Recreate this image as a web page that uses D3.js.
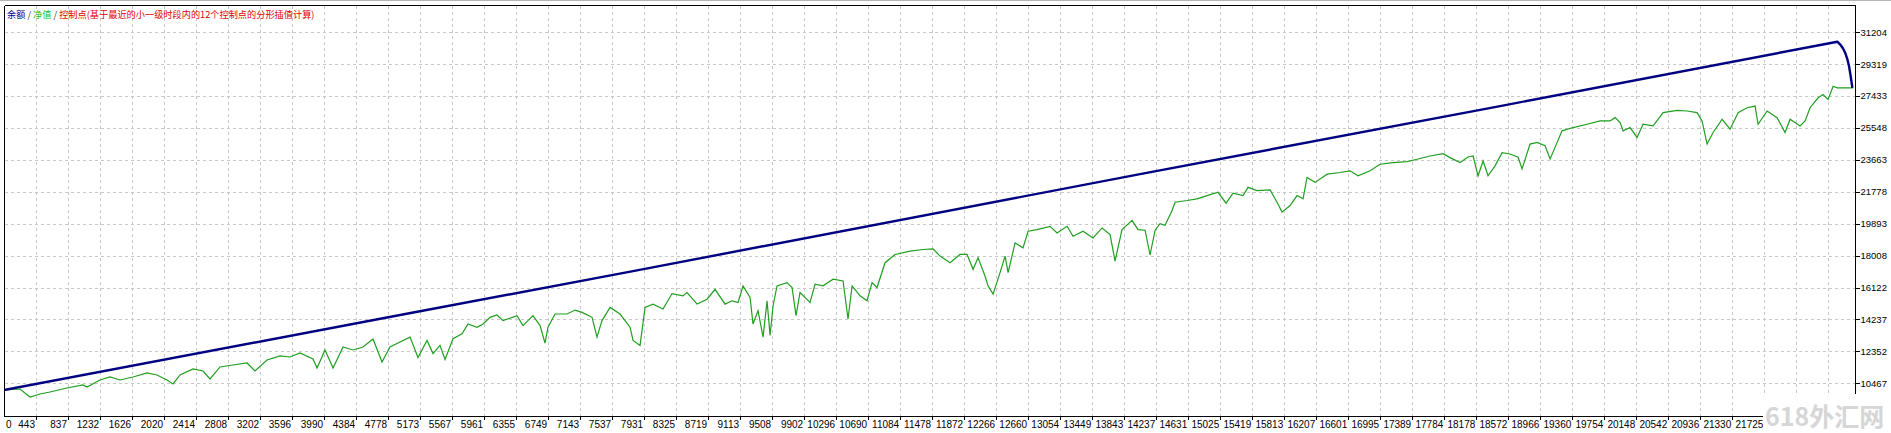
<!DOCTYPE html>
<html><head><meta charset="utf-8">
<script src="https://cdn.jsdelivr.net/npm/d3@7"></script>
<style>html,body{margin:0;padding:0;background:#fff;overflow:hidden}</style>
</head><body><svg id="c" width="1891" height="433"></svg>
<script>
// ---- data ----
const xTickLabels = [443,837,1232,1626,2020,2414,2808,3202,3596,3990,4384,4778,5173,5567,5961,6355,6749,7143,7537,7931,8325,8719,9113,9508,9902,10296,10690,11084,11478,11872,12266,12660,13054,13449,13843,14237,14631,15025,15419,15813,16207,16601,16995,17389,17784,18178,18572,18966,19360,19754,20148,20542,20936,21330,21725];
const xGridExtra = [22119, 22513];
const yTickLabels = [10467,12352,14237,16122,18008,19893,21778,23663,25548,27433,29319,31204];
const legendParts = ["余额", " / ", "净值", " / ", "控制点(基于最近的小一级时段内的12个控制点的分形插值计算)"];
const watermark = "618外汇网";

const balanceIdx = [49, 4926, 7795, 14038, 18471, 22624, 22660, 22694, 22722, 22747, 22768, 22789, 22809];
const balanceVal = [10071, 14501, 17094, 22825, 26846, 30648, 30480, 30250, 29980, 29620, 29200, 28579, 27921];

const equityIdx = [49,246,369,493,616,825,1022,1071,1231,1355,1478,1638,1810,1933,2056,2130,2217,2377,2500,2586,2709,2869,3042,3140,3288,3448,3571,3694,3854,3904,4002,4101,4224,4347,4470,4593,4704,4802,4926,
5049,5147,5258,5332,5418,5480,5578,5689,5763,5874,5948,6034,6120,6194,6366,6440,6563,6650,6711,6748,6834,6982,7081,7167,7290,7351,7413,7512,7635,7758,7795,7881,7943,8041,8164,8275,8410,8460,8583,8706,8805,8928,9014,9088,9149,9236,9272,9334,9396,9445,
9482,9519,9568,9691,9753,9802,9851,9974,10036,10134,10258,10381,10442,10492,10590,10676,10738,10799,10898,11021,11206,11366,11489,11575,11698,11821,11908,11982,12043,12129,12166,12228,12314,12376,12413,12499,12597,12659,12770,12930,13016,13139,13213,13336,13459,13570,13669,13730,13816,13939,14013,
14100,14161,14223,14284,14346,14432,14469,14617,14740,14863,14998,15097,15183,15306,15368,15479,15639,15725,15786,15885,15971,16045,16094,16193,16341,16501,16624,16722,16870,16993,17153,17326,17449,17609,17769,17855,17978,18077,18139,18200,18262,18323,18409,18496,
18594,18693,18742,18840,18927,19025,19087,19148,19234,19370,19542,19702,19826,19887,19949,19986,20072,20158,20232,20355,20478,20651,20774,20897,20958,21020,21094,21205,21303,21402,21513,21611,21648,21759,21882,21980,22042,22165,22227,22288,22387,22448,22510,22572,22621,22818];
const equityVal = [10071,10130,9657,9835,9953,10189,10367,10248,10662,10840,10662,10840,11076,10958,10662,10426,10958,11313,11194,10721,11431,11549,11667,11194,11844,12081,12022,12258,11903,11372,12435,11372,12612,12435,12612,13085,11726,12612,12907,
13196,11987,13001,12221,12708,11870,13098,13391,13975,13780,13975,14365,14501,14170,14462,13878,14462,13878,12845,13780,14560,14560,14794,14657,14365,13196,14170,14950,14560,13780,13001,12708,14950,15145,14852,15768,15631,15827,15145,15437,16021,15145,15340,15242,16216,15534,13975,14755,13196,15340,
13290,15050,16223,16418,16125,14463,15832,15245,16320,16223,16614,16516,14268,16223,15636,15343,16418,16125,17591,18080,18275,18373,18412,17982,17591,18080,18080,17200,17884,16809,16223,15734,17005,17982,17005,18764,18471,19449,19546,19742,19351,19742,19156,19449,19058,19644,19253,17689,19546,20094,19546,
19510,18047,19510,19900,19802,20680,21167,21265,21362,21557,21752,21108,21694,21557,22045,21850,21888,21167,20582,20972,21557,21362,22629,22337,22824,22922,23020,22727,23020,23409,23507,23566,23702,23897,24034,23799,23507,23839,23897,22727,23604,22727,23312,24092,
24015,23819,23136,24600,24698,24503,23722,24405,25382,25577,25772,25968,25968,26163,25870,25382,25577,24991,25772,25675,26456,26593,26554,26456,25968,24600,25284,26065,25479,26456,26749,26847,25772,26554,26163,25284,26065,25675,25968,26749,27335,27530,27237,28018,27921,27921];

// ---- layout ----
const L = 4.5, R = 1855.5, T = 5.5, B = 416.5;
const x = d3.scaleLinear().domain([0, 22850]).range([0, 1855.7]);
const y = d3.scaleLinear().domain([8535, 32817]).range([416, 5]);
const svg = d3.select("#c");
const numFont = "'Liberation Sans Narrow', 'Liberation Sans', Arial, sans-serif";
const numFont2 = "'Liberation Sans', Arial, sans-serif";

svg.append("rect").attr("width",1891).attr("height",433).attr("fill","#fff");
svg.append("line").attr("x1",0).attr("x2",1891).attr("y1",0.5).attr("y2",0.5).attr("stroke","#b4b4b4");

// grid
const gridX = xTickLabels.concat(xGridExtra);
const grid = svg.append("g").attr("stroke","#c8c8c8").attr("stroke-dasharray","3,3").attr("shape-rendering","crispEdges");
grid.selectAll("line.v").data(gridX).join("line")
  .attr("x1",d=>Math.round(x(d))+0.5).attr("x2",d=>Math.round(x(d))+0.5)
  .attr("y1",T).attr("y2",B);
grid.selectAll("line.h").data(yTickLabels).join("line").attr("class","h")
  .attr("x1",L).attr("x2",R)
  .attr("y1",d=>Math.round(y(d))+0.5).attr("y2",d=>Math.round(y(d))+0.5);

// clip
svg.append("clipPath").attr("id","pc").append("rect").attr("x",L).attr("y",T).attr("width",R-L).attr("height",B-T);

const eqData = equityIdx.map((d,i)=>[d, equityVal[i]]);
const balData = balanceIdx.map((d,i)=>[d, balanceVal[i]]);
const line = d3.line().x(d=>x(d[0])).y(d=>y(d[1]));

svg.append("path").attr("clip-path","url(#pc)").attr("d", line(eqData))
  .attr("fill","none").attr("stroke","#1f9e1f").attr("stroke-width",1.2).attr("stroke-linejoin","miter");
svg.append("path").attr("clip-path","url(#pc)").attr("d", line(balData))
  .attr("fill","none").attr("stroke","#000080").attr("stroke-width",2.4).attr("stroke-linejoin","round");

// frame
const frame = svg.append("g").attr("stroke","#000").attr("shape-rendering","crispEdges");
frame.append("line").attr("x1",L).attr("x2",R).attr("y1",T).attr("y2",T);
frame.append("line").attr("x1",L).attr("x2",L).attr("y1",T).attr("y2",B);
frame.append("line").attr("x1",R).attr("x2",R).attr("y1",T).attr("y2",B);
frame.append("line").attr("x1",L).attr("x2",R).attr("y1",B).attr("y2",B);

// right axis ticks & labels
const ry = svg.append("g");
ry.selectAll("line").data(yTickLabels).join("line")
  .attr("x1",R).attr("x2",R+4).attr("y1",d=>Math.round(y(d))+0.5).attr("y2",d=>Math.round(y(d))+0.5)
  .attr("stroke","#000").attr("shape-rendering","crispEdges");
ry.selectAll("text").data(yTickLabels).join("text")
  .attr("x",R+5).attr("y",d=>y(d)).attr("dy","0.35em")
  .attr("font-family",numFont2).attr("font-size",9.5).attr("fill","#000")
  .text(d=>d);

// bottom axis ticks & labels
const bx = svg.append("g");
bx.selectAll("line").data(gridX).join("line")
  .attr("x1",d=>Math.round(x(d))+0.5).attr("x2",d=>Math.round(x(d))+0.5).attr("y1",B).attr("y2",B+3)
  .attr("stroke","#000").attr("shape-rendering","crispEdges");
bx.selectAll("text").data(xTickLabels).join("text")
  .attr("x",d=>x(d)-1).attr("y",428).attr("text-anchor","end")
  .attr("font-family",numFont).attr("font-size",10).attr("fill","#000")
  .text(d=>d);
svg.append("text").attr("x",6).attr("y",428).attr("font-family",numFont).attr("font-size",10).text(0);

// legend
const colors = ["#00008b","#404040","#19c119","#404040","#e00000"];
const lg = svg.append("text").attr("x",7).attr("y",18)
  .attr("font-family","'Noto Sans CJK SC', sans-serif").attr("font-size",9.2);
lg.selectAll("tspan").data(legendParts).join("tspan").attr("fill",(d,i)=>colors[i]).attr("xml:space","preserve").text(d=>d);

// watermark
svg.append("rect").attr("x",1763).attr("y",394).attr("width",128).attr("height",39).attr("fill","#fff");
svg.append("text").attr("x",1765).attr("y",426).attr("font-family","'Noto Sans CJK SC', sans-serif")
  .attr("font-weight","bold").attr("font-size",25).attr("fill","#d6d6d6").text(watermark);
</script></body></html>
